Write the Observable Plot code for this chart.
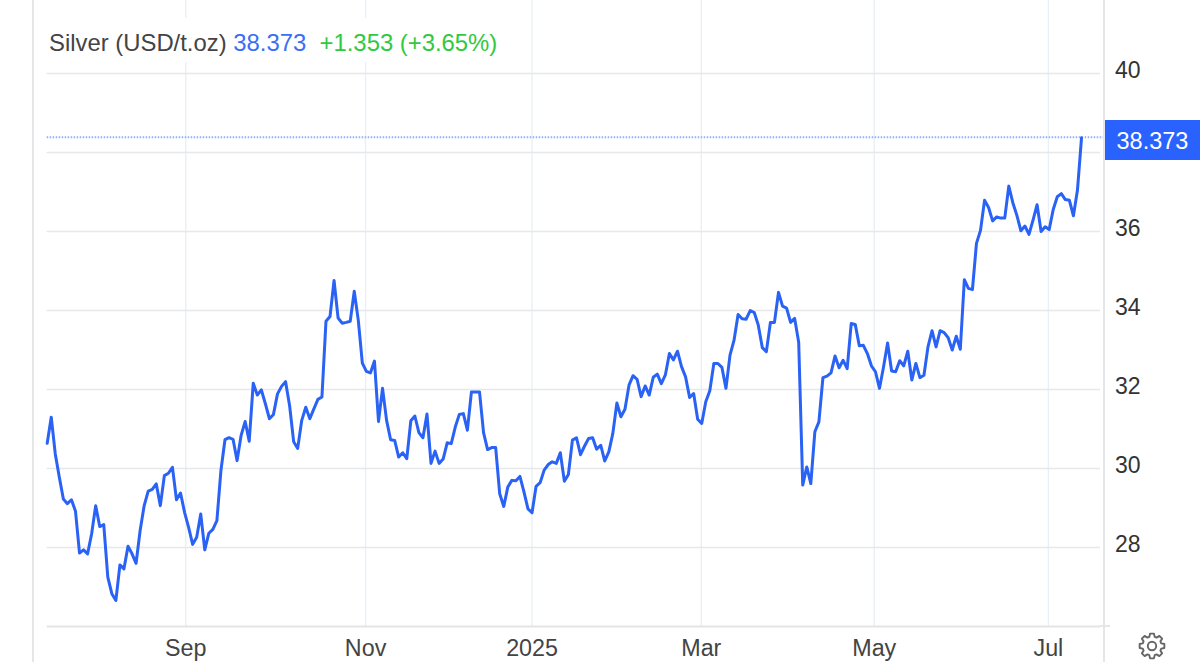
<!DOCTYPE html>
<html><head><meta charset="utf-8">
<script src="https://cdn.jsdelivr.net/npm/d3@7"></script>
<script src="https://cdn.jsdelivr.net/npm/@observablehq/plot@0.6"></script>
<style>
html,body{margin:0;padding:0;background:#fff;overflow:hidden}
#wrap{position:relative;width:1200px;height:662px;font-family:"Liberation Sans",Arial,sans-serif}
#wrap svg{position:absolute;left:0;top:0}
.vb{position:absolute;background:#e4e6e8}
#title{position:absolute;left:46px;top:18px;height:44px;line-height:50px;padding:0 4px 0 3px;background:#fff;font-size:23.86px;color:#444;white-space:pre}
#badge{position:absolute;left:1105px;top:120px;width:95px;height:40px;line-height:43px;background:#2962ff;color:#fff;font-size:23.5px;text-align:center}
</style></head><body>
<div id="wrap"></div>
<script>
const prices = [
30.64,31.30,30.37,29.78,29.23,29.11,29.21,28.92,27.86,27.94,
27.84,28.35,29.06,28.53,28.58,27.25,26.83,26.66,27.56,27.46,
28.03,27.84,27.60,28.43,29.06,29.43,29.47,29.61,29.06,29.82,
29.88,30.03,29.21,29.38,28.89,28.51,28.08,28.26,28.85,27.94,
28.36,28.46,28.68,29.95,30.73,30.78,30.74,30.20,30.84,31.19,
30.69,32.16,31.86,31.99,31.64,31.26,31.37,31.89,32.08,32.20,
31.59,30.68,30.51,31.22,31.55,31.26,31.51,31.75,31.81,33.73,
33.85,34.76,33.81,33.68,33.70,33.73,34.49,33.75,32.67,32.46,
32.42,32.72,31.19,32.03,31.22,30.73,30.71,30.29,30.40,30.25,
31.21,31.33,30.91,30.78,31.38,30.13,30.44,30.13,30.24,30.65,
30.63,31.05,31.37,31.39,30.97,31.94,31.94,31.94,30.91,30.48,
30.53,30.53,29.36,29.04,29.53,29.70,29.69,29.80,29.41,28.98,
28.88,29.55,29.64,29.96,30.10,30.17,30.13,30.40,29.68,29.85,
30.72,30.78,30.35,30.57,30.76,30.78,30.49,30.59,30.19,30.42,
30.89,31.66,31.31,31.50,32.11,32.35,32.26,31.82,32.09,31.86,
32.31,32.39,32.15,32.37,32.91,32.75,32.97,32.58,32.32,31.80,
31.90,31.25,31.14,31.69,31.97,32.66,32.66,32.56,32.03,32.87,
33.25,33.90,33.79,33.78,34.00,33.95,33.63,33.06,32.96,33.70,
33.70,34.46,34.11,34.06,33.70,33.80,33.20,29.58,30.04,29.62,
30.93,31.18,32.30,32.34,32.42,32.85,32.55,32.74,32.53,33.67,
33.65,33.11,33.12,32.91,32.60,32.45,32.03,32.57,33.18,32.47,
32.45,32.73,32.60,32.97,32.24,32.66,32.30,32.36,33.08,33.49,
33.08,33.49,33.44,33.31,33.00,33.35,33.02,34.78,34.56,34.53,
35.70,36.03,36.79,36.61,36.27,36.37,36.34,36.34,37.15,36.73,
36.41,36.02,36.14,35.93,36.29,36.68,36.00,36.12,36.05,36.56,
36.88,36.96,36.81,36.79,36.40,37.05,38.373
];
const lastPrice = 38.373, change = "+1.353", changePct = "(+3.65%)";
const monthLabels = ["Sep","Nov","2025","Mar","May","Jul"];
const monthIndex = [34.3,78.8,120,161.9,204.7,247.8];
const yGrid = [28,30,32,34,36,38,40];
const yLabels = [28,30,32,34,36,40];
const idx = prices.map((_,i)=>i);
const labelOf = new Map(monthIndex.map((m,i)=>[m,monthLabels[i]]));

const chart = Plot.plot({
  width:1200, height:662,
  marginLeft:46.7, marginRight:100, marginTop:0, marginBottom:36,
  style:{fontFamily:'"Liberation Sans",Arial,sans-serif',background:"transparent",overflow:"visible"},
  x:{type:"linear",domain:[0,260.7]},
  y:{type:"linear",domain:[26,41.85]},
  marks:[
    Plot.gridX(monthIndex,{stroke:"#e9f0f5",strokeOpacity:1,strokeWidth:1.4}),
    Plot.gridY(yGrid,{stroke:"#e6e8ea",strokeOpacity:1,strokeWidth:1.5}),
    Plot.ruleY([26],{stroke:"#e2e4e6",strokeWidth:1.8}),
    Plot.axisY(yLabels,{anchor:"right",tickSize:0,tickPadding:14.5,fontSize:23,dy:-2.5,fill:"#333",label:null,tickFormat:d=>d}),
    Plot.axisX(monthIndex,{anchor:"bottom",tickSize:0,tickPadding:13,fontSize:23.3,fill:"#444",label:null,tickFormat:d=>labelOf.get(d)}),
    Plot.ruleY([lastPrice],{stroke:"#8fb0ff",strokeWidth:2,strokeDasharray:"1.5,1.5",dy:-0.7,x1:0,x2:261.7,clip:false}),
    Plot.lineY(prices,{x:idx,y:prices,stroke:"#2962f5",strokeWidth:3,strokeLinejoin:"round"})
  ]
});
const wrap = document.getElementById("wrap");
wrap.appendChild(chart);

function box(l,t,w,h){const d=document.createElement("div");d.className="vb";d.style.cssText=`left:${l}px;top:${t}px;width:${w}px;height:${h}px`;wrap.appendChild(d);}
box(32,0,2,662);
box(1103,0,2,662);
box(1100,625,10,2);

const title=document.createElement("div");title.id="title";
title.innerHTML=`Silver (USD/t.oz) <span style="color:#3a6ff5">${lastPrice}</span>  <span style="color:#30c940">${change} ${changePct}</span>`;
wrap.appendChild(title);
const badge=document.createElement("div");badge.id="badge";badge.textContent=lastPrice;wrap.appendChild(badge);

// settings gear icon
const R=12.5,r=9.6,teeth=8;let pts=[];
for(let i=0;i<teeth;i++){const a=i/teeth*2*Math.PI;const s=2*Math.PI/teeth;
 [[-.36,r],[-.2,R],[.2,R],[.36,r]].forEach(([f,q])=>pts.push([14+q*Math.cos(a+f*s),14+q*Math.sin(a+f*s)]));}
const ns="http://www.w3.org/2000/svg";
const g=document.createElementNS(ns,"svg");g.setAttribute("width",28);g.setAttribute("height",28);
g.style.left="1138px";g.style.top="632px";
g.innerHTML=`<polygon points="${pts.map(p=>p.join(",")).join(" ")}" fill="none" stroke="#666" stroke-width="1.9" stroke-linejoin="round"/><circle cx="14" cy="14" r="4.2" fill="none" stroke="#666" stroke-width="1.9"/>`;
wrap.appendChild(g);
</script>
</body></html>
